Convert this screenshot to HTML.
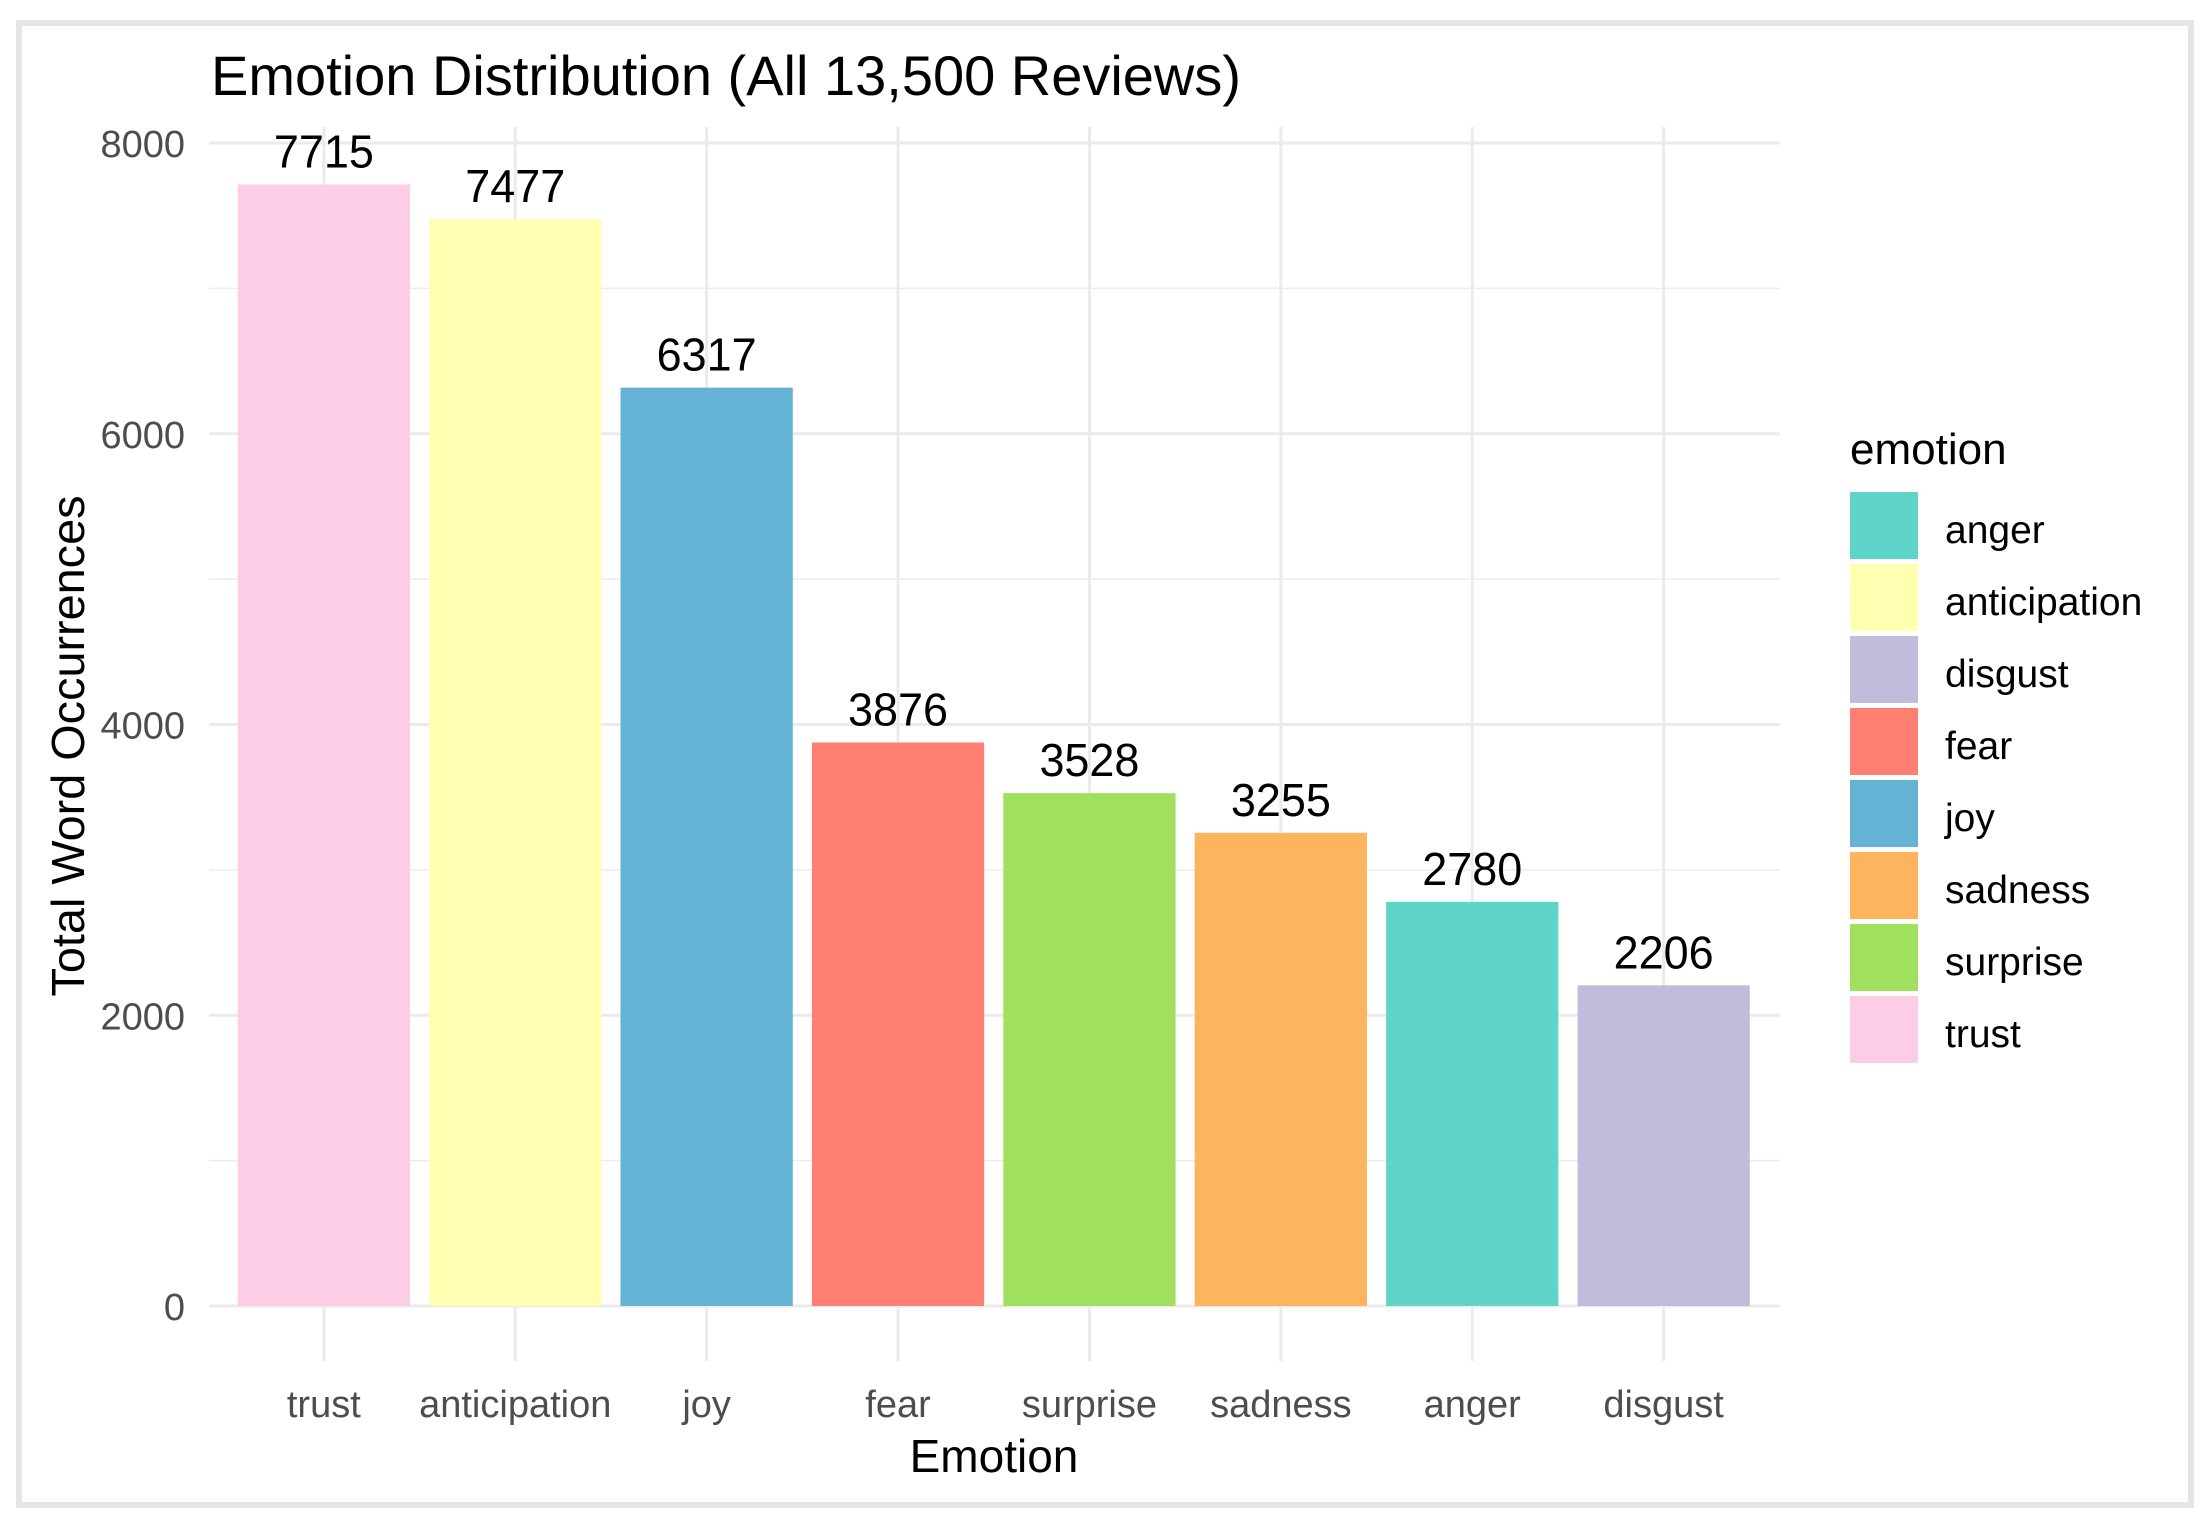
<!DOCTYPE html>
<html><head><meta charset="utf-8"><style>
html,body{margin:0;padding:0;background:#fff;}
svg{display:block;font-family:"Liberation Sans",sans-serif;}
</style></head><body>
<svg id="chart" width="2211" height="1527" viewBox="0 0 2211 1527" xmlns="http://www.w3.org/2000/svg">
<rect x="0" y="0" width="2211" height="1527" fill="#fff"/>
<rect x="19" y="23" width="2172" height="1482" fill="none" stroke="#e5e5e5" stroke-width="6"/>
<text x="211" y="95" font-size="56" fill="#000" textLength="1030" lengthAdjust="spacingAndGlyphs">Emotion Distribution (All 13,500 Reviews)</text>
<g id="grid"></g>
<g id="bars"></g>
<g id="yaxis"></g>
<g id="xaxis"></g>
<text transform="translate(84,746) rotate(-90)" text-anchor="middle" font-size="46" fill="#000" textLength="501" lengthAdjust="spacingAndGlyphs">Total Word Occurrences</text>
<text x="994" y="1472" text-anchor="middle" font-size="46" fill="#000">Emotion</text>
<g id="legend">
<text x="1850" y="464" font-size="44" fill="#000">emotion</text>
</g>
</svg>
<script>
const categories = ["trust","anticipation","joy","fear","surprise","sadness","anger","disgust"];
const values = [7715,7477,6317,3876,3528,3255,2780,2206];
const barColors = ["#FDCDE5","#FFFFB2","#64B2D4","#FF8072","#A0E05E","#FDB45E","#5FD4C8","#C2BCDC"];
const yTicks = [0,2000,4000,6000,8000];
const yMinor = [1000,3000,5000,7000];
const legendKeys = ["anger","anticipation","disgust","fear","joy","sadness","surprise","trust"];
const legendColors = ["#5FD4C8","#FFFFB2","#C2BCDC","#FF8072","#64B2D4","#FDB45E","#A0E05E","#FDCDE5"];

const NS="http://www.w3.org/2000/svg";
const plotL=209, plotR=1780, panelTop=127, panelBot=1361;
const y0=1306, yPer=(1306-143)/8000;
const band=191.4, xStart=209;
function yScale(v){return y0 - v*yPer;}
function xScale(i){return xStart + (i+0.6)*band;}
function mk(tag,attrs,parent){const e=document.createElementNS(NS,tag);for(const k in attrs)e.setAttribute(k,attrs[k]);parent.appendChild(e);return e;}

const grid=document.getElementById('grid');
yMinor.forEach(v=>{
  const l=mk('line',{x1:plotL,x2:plotR,y1:yScale(v),y2:yScale(v),stroke:'#ececec','stroke-width':1.5},grid);
  
  
});
yTicks.forEach(v=>{
  const l=mk('line',{x1:plotL,x2:plotR,y1:yScale(v),y2:yScale(v),stroke:'#ebebeb','stroke-width':3},grid);
  
  
});
categories.forEach((c,i)=>{
  const l=mk('line',{x1:xScale(i),x2:xScale(i),y1:panelTop,y2:panelBot,stroke:'#ebebeb','stroke-width':3},grid);
  
  
});

const bars=document.getElementById('bars');
const bw=band*0.9;
categories.forEach((c,i)=>{
  const top=yScale(values[i]);
  const r=mk('rect',{x:xScale(i)-bw/2,y:top,width:bw,height:y0-top,fill:barColors[i]},bars);
  
  
  const t=mk('text',{x:xScale(i),y:top-17,'text-anchor':'middle','font-size':46,fill:'#000',textLength:100,lengthAdjust:'spacingAndGlyphs'},bars);
  t.textContent=String(values[i]);
  
  
});

const yaxis=document.getElementById('yaxis');
yTicks.forEach(v=>{
  const t=mk('text',{x:185,y:yScale(v)+14,'text-anchor':'end','font-size':38,fill:'#4d4d4d'},yaxis);
  t.textContent=String(v);
  
  
});

const xaxis=document.getElementById('xaxis');
categories.forEach((c,i)=>{
  const t=mk('text',{x:xScale(i),y:1417,'text-anchor':'middle','font-size':38,fill:'#4d4d4d'},xaxis);
  t.textContent=c;
  
  
});

const legend=document.getElementById('legend');
legendKeys.forEach((k,i)=>{
  const y=492+i*72;
  const r=mk('rect',{x:1850,y:y,width:68,height:67,fill:legendColors[i]},legend);
  
  
  const t=mk('text',{x:1945,y:y+51,'font-size':39,fill:'#000'},legend);
  t.textContent=k;
  
  
});
</script>
</body></html>
